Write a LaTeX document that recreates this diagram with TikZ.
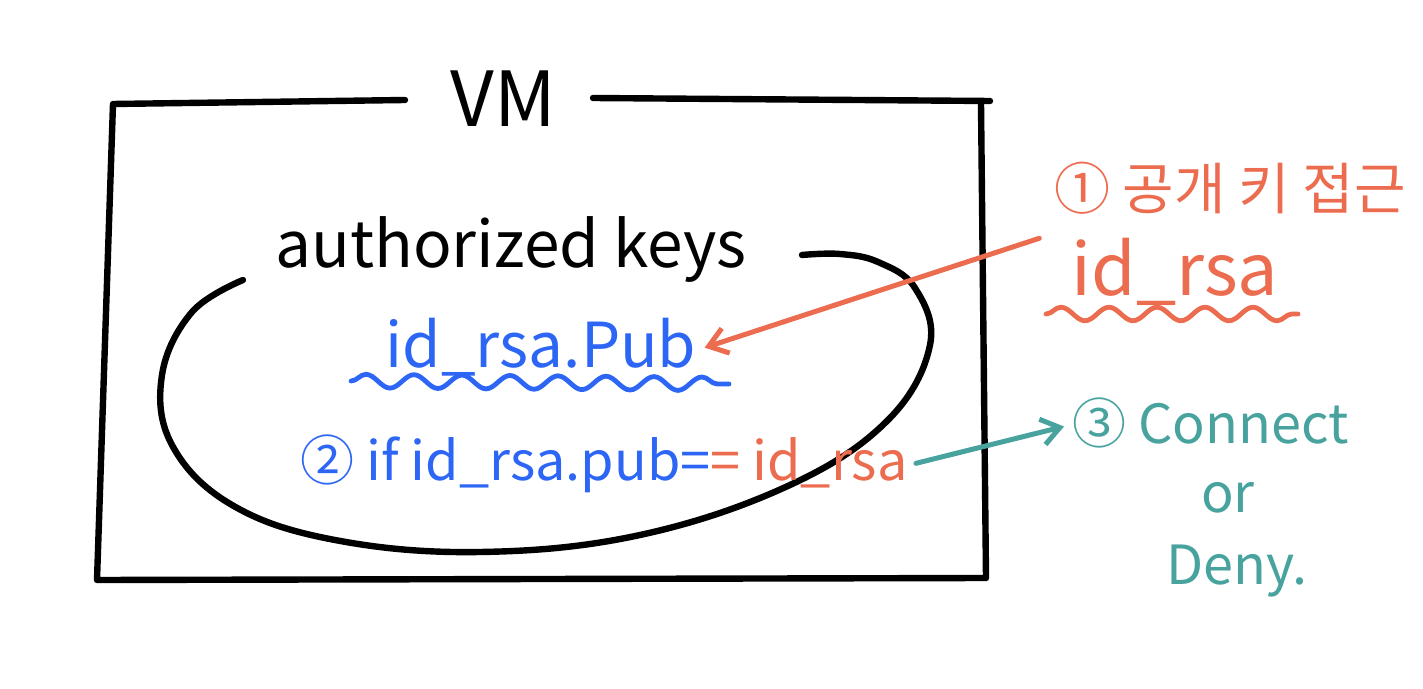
\documentclass[tikz,border=0pt]{standalone}
\usepackage{fontspec}
\setmainfont{Noto Sans CJK KR}
\usetikzlibrary{arrows.meta, decorations.pathmorphing}

\definecolor{keyblue}{RGB}{45,102,245}
\definecolor{keyred}{RGB}{236,108,80}
\definecolor{keyteal}{RGB}{72,162,158}

\begin{document}
\begin{tikzpicture}[
  x=0.5pt,
  y=-0.5pt, % <-- pixel grid, origin top left
  >={Straight Barb[length=9pt,width=13pt]},
  every node/.style={inner sep=4pt},
  pen/.style={line width=3.2pt, line cap=round, line join=round},
  ink/.style={line width=2.5pt, line cap=round},
  wave/.style={line width=2.4pt, line cap=round, decorate,
    decoration={snake, amplitude=3.4pt, segment length=24pt}}
]
\useasboundingbox (0,0) rectangle (1423,689);

% VM box
\node[anchor=base, font=\fontsize{38}{40}\selectfont] (vm) at (503,127) {VM};
\draw[pen] (405,100) -- (113,104) -- (97,580) -- (986,578) -- (981,104);
\draw[pen] (593,98) -- (990,101);

% authorized keys loop
\node[anchor=base, font=\fontsize{32}{34}\selectfont] (auth) at (511,268) {authorized keys};
\draw[pen] plot[smooth, tension=0.65] coordinates {
  (243,280) (192,312) (162,375) (172,445) (232,505) (335,540) (480,552)
  (640,535) (790,485) (888,420) (930,345) (915,288) (878,262) (840,254) (802,255)};

% --- inside the loop ---
\node[anchor=base, keyblue, font=\fontsize{31}{33}\selectfont] (pubkey) at (541,368) {id\_rsa.Pub};
\draw[wave, keyblue] (351,381) -- (729,384);
\node[anchor=base west, font=\fontsize{27}{29}\selectfont] (cmp) at (292,480)
  {\textcolor{keyblue}{② if id\_rsa.pub=}\textcolor{keyred}{= id\_rsa}};

% --- client side ---
\node[anchor=base west, keyred, font=\fontsize{28}{30}\selectfont] (step1) at (1046,210) {① 공개 키 접근};
\node[anchor=base, keyred, font=\fontsize{36}{38}\selectfont] (privkey) at (1175,296) {id\_rsa};
\draw[wave, keyred] (1046,314) -- (1298,314);

% --- result ---
\node[anchor=base west, keyteal, font=\fontsize{27}{29}\selectfont] (result) at (1064,443) {③ Connect};
\node[anchor=base, keyteal, font=\fontsize{27}{29}\selectfont] (orword) at (1228,512) {or};
\node[anchor=base, keyteal, font=\fontsize{27}{29}\selectfont] (deny) at (1237,584) {Deny.};

% arrows
\draw[ink, keyred, ->] ([xshift=-12pt,yshift=-4pt]privkey.north west) -- (pubkey.east);
\draw[ink, keyteal, ->] (cmp.east) -- ([yshift=-2pt]result.west);

\end{tikzpicture}
\end{document}
